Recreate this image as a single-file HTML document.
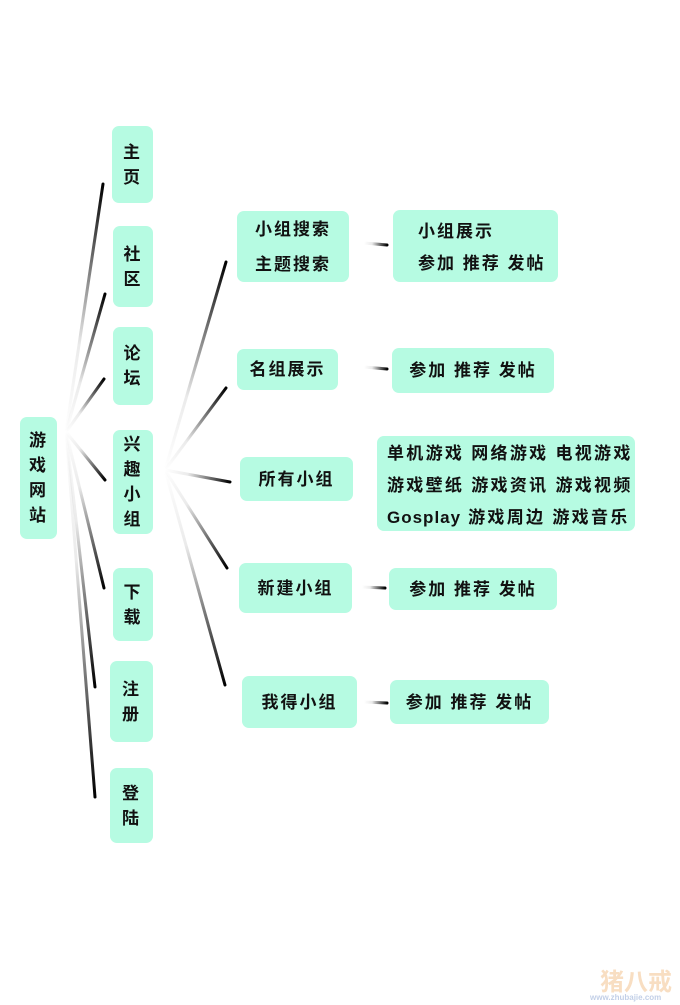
<!DOCTYPE html><html><head><meta charset="utf-8"><style>
body{margin:0;width:680px;height:1005px;background:#fff;position:relative;overflow:hidden;font-family:"Liberation Sans","Noto Sans CJK SC",sans-serif;font-weight:bold;font-size:17px;color:#111;letter-spacing:2px}
.b{position:absolute;background:#b6fbe2;border-radius:7px;box-sizing:border-box}
.v{display:flex;flex-direction:column;align-items:center;justify-content:center;line-height:25px;text-align:center}
.t{position:absolute;white-space:nowrap}
svg{position:absolute;left:0;top:0}
</style></head><body>
<svg width="680" height="1005">
<defs></defs>
<g stroke-width="3" stroke-linecap="round" fill="none" id="lines"></g>
</svg>
<script>
var L=[[66,432,103,184],[66,432,105,294],[66,432,104,379],[66,432,105,480],[66,432,104,588],[66,432,95,687],[66,432,95,797],
[165,470,226,262],[165,470,226,388],[165,470,230,482],[165,470,227,568],[165,470,225,685],
[364,243,387,245],[364,367,387,369],[362,587,385,588],[364,702,387,703]];
var s=document.querySelector('svg'),d=s.querySelector('defs'),g=s.querySelector('#lines'),ns='http://www.w3.org/2000/svg';
L.forEach(function(l,i){var lg=document.createElementNS(ns,'linearGradient');lg.setAttribute('id','q'+i);lg.setAttribute('gradientUnits','userSpaceOnUse');
lg.setAttribute('x1',l[0]);lg.setAttribute('y1',l[1]);lg.setAttribute('x2',l[2]);lg.setAttribute('y2',l[3]);
lg.innerHTML='<stop offset="0" stop-color="#000" stop-opacity="0"/><stop offset="0.35" stop-color="#000" stop-opacity="0.08"/><stop offset="1" stop-color="#000"/>';d.appendChild(lg);
var p=document.createElementNS(ns,'line');p.setAttribute('x1',l[0]);p.setAttribute('y1',l[1]);p.setAttribute('x2',l[2]);p.setAttribute('y2',l[3]);p.setAttribute('stroke','url(#q'+i+')');g.appendChild(p);});
</script>
<div class="b v" style="left:20px;top:417px;width:37px;height:122px">游<br>戏<br>网<br>站</div>
<div class="b v" style="left:112px;top:126px;width:41px;height:77px">主<br>页</div>
<div class="b v" style="left:113px;top:226px;width:40px;height:81px">社<br>区</div>
<div class="b v" style="left:113px;top:327px;width:40px;height:78px">论<br>坛</div>
<div class="b v" style="left:113px;top:430px;width:40px;height:104px">兴<br>趣<br>小<br>组</div>
<div class="b v" style="left:113px;top:568px;width:40px;height:73px">下<br>载</div>
<div class="b v" style="left:110px;top:661px;width:43px;height:81px">注<br>册</div>
<div class="b v" style="left:110px;top:768px;width:43px;height:75px">登<br>陆</div>
<div class="b v" style="left:237px;top:211px;width:112px;height:71px;line-height:35px">小组搜索<br>主题搜索</div>
<div class="b v" style="left:237px;top:349px;width:101px;height:41px">名组展示</div>
<div class="b v" style="left:240px;top:457px;width:113px;height:44px">所有小组</div>
<div class="b v" style="left:239px;top:563px;width:113px;height:50px">新建小组</div>
<div class="b v" style="left:242px;top:676px;width:115px;height:52px">我得小组</div>
<div class="b" style="left:393px;top:210px;width:165px;height:72px"><span class="t" style="left:25px;top:7px">小组展示</span><span class="t" style="left:25px;top:39px">参加 推荐 发帖</span></div>
<div class="b v" style="left:392px;top:348px;width:162px;height:45px">参加 推荐 发帖</div>
<div class="b" style="left:377px;top:436px;width:258px;height:95px;line-height:32px;padding-left:10px;padding-top:2px;white-space:nowrap;letter-spacing:2.3px">单机游戏 网络游戏 电视游戏<br>游戏壁纸 游戏资讯 游戏视频<br><span style="letter-spacing:1px">Gosplay</span> 游戏周边 游戏音乐</div>
<div class="b v" style="left:389px;top:568px;width:168px;height:42px">参加 推荐 发帖</div>
<div class="b v" style="left:390px;top:680px;width:159px;height:44px">参加 推荐 发帖</div>
<div class="t" style="left:600px;top:962px;color:#f5c99a;font-size:24px;opacity:.6;letter-spacing:0">猪八戒</div>
<div class="t" style="left:590px;top:993px;color:#9ab0d8;font-size:8px;opacity:.6;letter-spacing:0">www.zhubajie.com</div>
</body></html>
